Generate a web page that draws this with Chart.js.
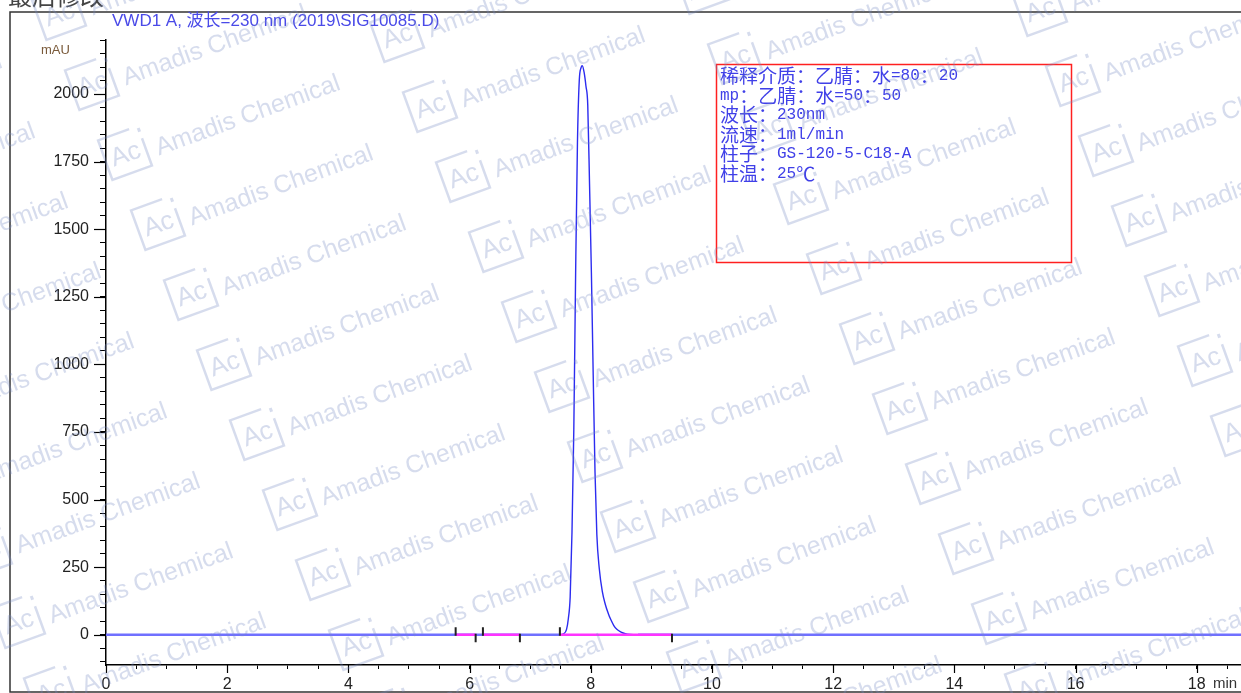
<!DOCTYPE html>
<html>
<head>
<meta charset="utf-8">
<script src="https://cdn.jsdelivr.net/npm/chart.js@4.4.1/dist/chart.umd.min.js"></script>
<style>
html,body{margin:0;padding:0;background:#fff;overflow:hidden}
#wrap{width:1241px;height:693px;position:relative}
</style>
</head>
<body>
<div id="wrap"><canvas id="c" width="1241" height="693"></canvas></div>
<script>
// VWD1 A chromatogram, 230 nm
const signalTimes  = [0, 7.50, 7.55, 7.60, 7.63, 7.66, 7.69, 7.72, 7.75, 7.78, 7.81, 7.84, 7.86, 7.89, 7.92, 7.95, 7.98, 8.01, 8.04, 8.07, 8.10, 8.14, 8.19, 8.24, 8.29, 8.33, 8.38, 8.43, 8.50, 8.57, 8.65, 8.78, 18.75];
const signalValues = [0, 0,    3,    20,   60,   140,  380,  760,  1340, 1820, 2050, 2098, 2105, 2080, 2030, 1960, 1660, 1340, 960,  600,  370,  245,  160,  112,  78,   56,   34,   20,   10,   4,    1,    0,    0];
const eventTimes = [5.77, 6.10, 6.22, 6.83, 7.49, 9.34];
const eventDirs  = [1, -1, 1, -1, 1, -1];
const baseStart  = [5.77, 6.22, 7.49];
const baseEnd    = [6.10, 6.83, 9.34];
const xTickLabels = [0, 2, 4, 6, 8, 10, 12, 14, 16, 18];
const yTickLabels = [0, 250, 500, 750, 1000, 1250, 1500, 1750, 2000];
const titleText = 'VWD1 A, 波长=230 nm (2019\\SIG10085.D)';
const noteLines = ['稀释介质：乙腈：水=80：20', 'mp：乙腈：水=50：50', '波长：230nm', '流速：1ml/min', '柱子：GS-120-5-C18-A', '柱温：25℃'];

const signal = signalTimes.map((t,i)=>({x:t, y:signalValues[i]}));
const baseSegs = [];
baseStart.forEach((s,i)=>{ baseSegs.push({x:s,y:0},{x:baseEnd[i],y:0},{x:baseEnd[i],y:null}); });
const events = [];
eventTimes.forEach((t,i)=>{ events.push({x:t,y:eventDirs[i]>0?-4:4},{x:t,y:eventDirs[i]*28},{x:t,y:null}); });

const isCJK = ch => /[\u2100-\u214f\u3000-\u9fff\uff00-\uffef]/.test(ch);
function drawMixed(ctx, str, x, y){
  for(const ch of str){
    ctx.font = isCJK(ch) ? '19px "Noto Sans CJK SC"' : '16px "Liberation Mono"';
    ctx.fillText(ch, x, y); x += ctx.measureText(ch).width;
  }
}

function drawWatermark(ctx){
  const ox=158, oy=223, ax=272, ay=-118, bx=33, by=70;
  const ang = -20*Math.PI/180;
  ctx.save();
  ctx.fillStyle='rgba(120,140,195,0.30)'; ctx.strokeStyle='rgba(120,140,195,0.30)'; ctx.lineWidth=2.5;
  for(let i=-4;i<=8;i++) for(let j=-6;j<=14;j++){
    const cx=ox+i*ax+j*bx, cy=oy+i*ay+j*by;
    if(cx<-320||cx>1300||cy<-40||cy>740) continue;
    ctx.save(); ctx.translate(cx,cy); ctx.rotate(ang);
    ctx.beginPath(); ctx.moveTo(12,-21); ctx.lineTo(-21,-21); ctx.lineTo(-21,21); ctx.lineTo(21,21); ctx.lineTo(21,-8); ctx.stroke();
    ctx.fillRect(19.5,-19,3,4);
    ctx.font='26px Arial'; ctx.textAlign='center'; ctx.textBaseline='middle'; ctx.fillText('Ac',0,2);
    ctx.font='25px Arial'; ctx.textAlign='left'; ctx.textBaseline='alphabetic'; ctx.fillText('Amadis Chemical',31,14);
    ctx.restore();
  }
  ctx.restore();
}

const decor = {
  id:'decor',
  beforeDraw(chart){ const c=chart.ctx; c.save(); c.fillStyle='#fff'; c.fillRect(0,0,chart.width,chart.height); c.restore(); },
  afterDatasetsDraw(chart){
    const c=chart.ctx, x=chart.scales.x, y=chart.scales.y, a=chart.chartArea;
    c.save();
    c.strokeStyle='#000'; c.lineWidth=1.2;
    yTickLabels.forEach(v=>{ const py=Math.round(y.getPixelForValue(v))+0.5; c.beginPath(); c.moveTo(a.left-12,py); c.lineTo(a.left,py); c.stroke(); });
    xTickLabels.forEach(v=>{ const px=Math.round(x.getPixelForValue(v))+0.5; c.beginPath(); c.moveTo(px,a.bottom); c.lineTo(px,a.bottom+8); c.stroke(); });
    // frame
    c.strokeStyle='#333'; c.lineWidth=1.5;
    c.beginPath(); c.moveTo(chart.width,12); c.lineTo(10,12); c.lineTo(10,692); c.lineTo(chart.width,692); c.stroke();
    // top cut-off label
    c.fillStyle='#444'; c.font='24px "Noto Sans CJK SC"'; c.textBaseline='alphabetic'; c.fillText('最后修改',8,5);
    // title
    c.fillStyle='#4a4ae8'; c.font='17px Arial, "Noto Sans CJK SC"'; c.textBaseline='middle'; c.textAlign='left';
    c.fillText(titleText,112,21);
    // unit labels
    c.fillStyle='#7a5a3a'; c.font='13px Arial'; c.fillText('mAU',41,50);
    c.fillStyle='#333'; c.font='15px Arial'; c.fillText('min',1213,684);
    // note box
    c.strokeStyle='#ff2020'; c.lineWidth=1.5; c.strokeRect(716.5,64.5,355,198);
    c.fillStyle='#4040e8'; c.textBaseline='middle';
    noteLines.forEach((s,i)=>drawMixed(c,s,720,76+i*19.5));
    c.restore();
  },
  afterDraw(chart){ drawWatermark(chart.ctx); }
};

new Chart(document.getElementById('c'), {
  type:'line',
  data:{ datasets:[
    { data:signal, order:2, borderWidth:1.5, pointRadius:0, cubicInterpolationMode:'monotone',
      segment:{ borderColor:s=>(s.p0.parsed.y===0&&s.p1.parsed.y===0)?'#7070ff':'#2c2cf0',
                borderWidth:s=>(s.p0.parsed.y===0&&s.p1.parsed.y===0)?2.5:1.4 } },
    { data:baseSegs, order:1, borderColor:'#ff33ff', borderWidth:2.5, pointRadius:0, spanGaps:false },
    { data:events, order:0, borderColor:'#222', borderWidth:2, pointRadius:0, spanGaps:false }
  ]},
  options:{
    responsive:false, animation:false, devicePixelRatio:1,
    layout:{ padding:{ top:40, right:0, left:0, bottom:0 } },
    plugins:{ legend:{display:false}, tooltip:{enabled:false} },
    scales:{
      x:{ type:'linear', min:0, max:18.73, position:'bottom',
          ticks:{ stepSize:0.5, autoSkip:false, includeBounds:false, maxRotation:0, padding:6, color:'#222', font:{family:'Arial', size:16},
                  callback:v=>xTickLabels.includes(v)?String(v):'' },
          grid:{ drawOnChartArea:false, drawTicks:true, tickLength:4, color:'#000' },
          border:{ display:true, color:'#000', width:1.5 },
          afterFit:s=>{ s.height=28; } },
      y:{ type:'linear', min:-112, max:2200, position:'left',
          ticks:{ stepSize:50, autoSkip:false, includeBounds:false, padding:11, color:'#222', font:{family:'Arial', size:16},
                  callback:v=>yTickLabels.includes(v)?String(v):'' },
          grid:{ drawOnChartArea:false, drawTicks:true, tickLength:6, color:'#000' },
          border:{ display:true, color:'#000', width:1.5 },
          afterFit:s=>{ s.width=106; } }
    }
  },
  plugins:[decor]
});
</script>
</body>
</html>
